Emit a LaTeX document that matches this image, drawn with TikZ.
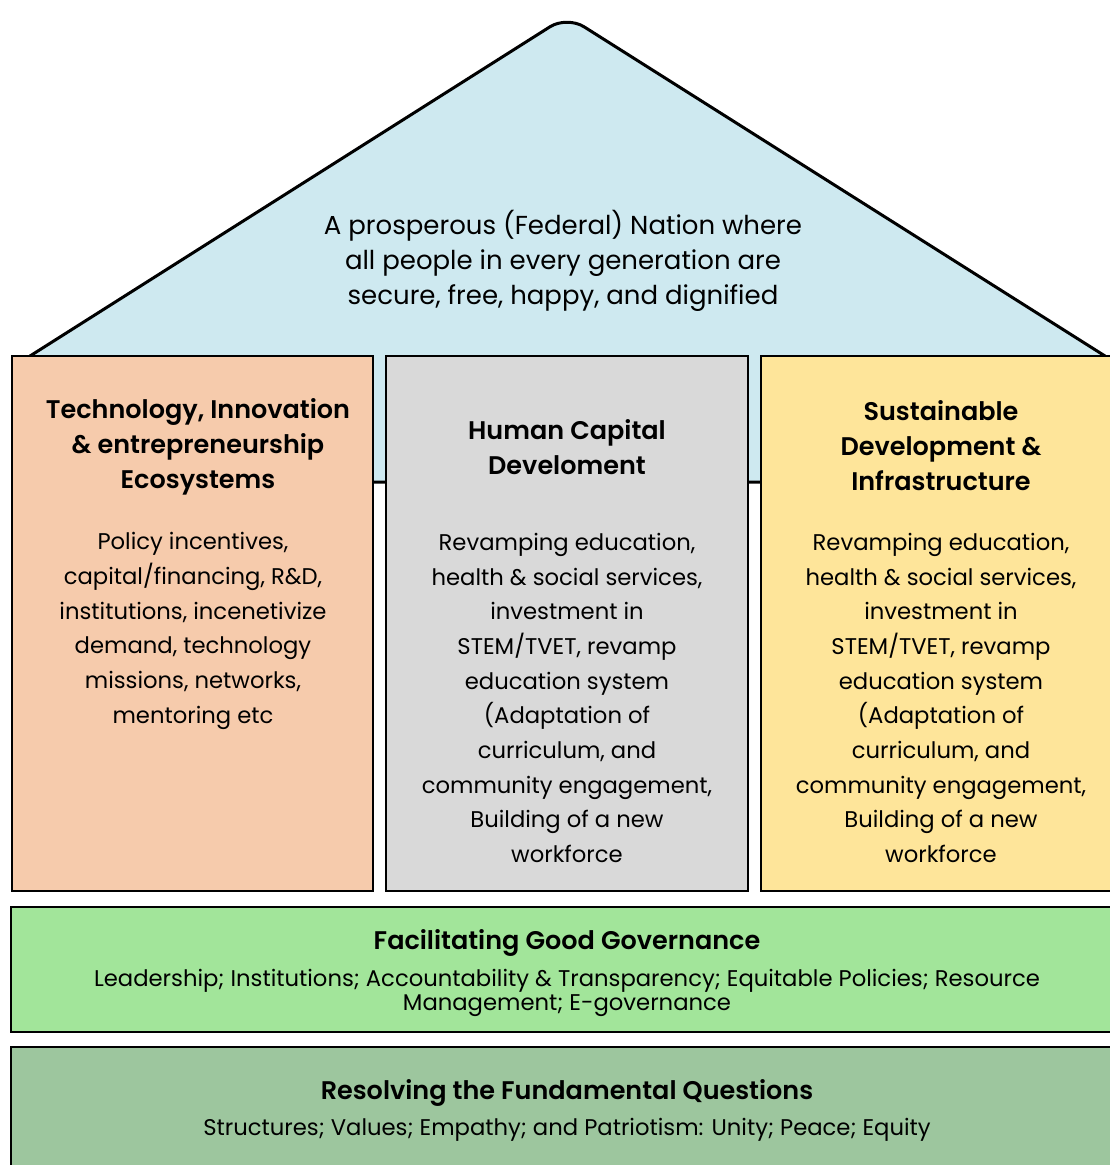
\documentclass[tikz,border=0pt]{standalone}
\usepackage{fontspec}
\setmainfont{Poppins}[BoldFont={Poppins SemiBold}]
\definecolor{roofc}{RGB}{206,233,240}
\definecolor{peach}{RGB}{246,203,172}
\definecolor{grayc}{RGB}{217,217,217}
\definecolor{yellowc}{RGB}{254,229,154}
\definecolor{greenc}{RGB}{162,229,154}
\definecolor{dgreenc}{RGB}{157,198,158}
\begin{document}
\begin{tikzpicture}[x=1pt,y=-1pt,
  pillar/.style={draw=black,line width=2.4pt},
  ttl/.style={align=center,font=\fontsize{25.5}{35}\selectfont\bfseries},
  bod/.style={align=center,font=\fontsize{22.7}{34.7}\selectfont},
  gbod/.style={align=center,font=\fontsize{22.7}{24}\selectfont}]
\useasboundingbox (0,0) rectangle (1110,1165);
\clip (0,0) rectangle (1110,1165);
% roof
\draw[fill=roofc,line width=3pt,line join=round] (30,482) -- (30,356) [rounded corners=20pt] -- (567,16) [sharp corners] -- (1105,356) -- (1105,482) -- cycle;
\node[bod,font=\fontsize{26}{35}\selectfont] (roofText) at (563,261) {A prosperous (Federal) Nation where\\all people in every generation are\\secure, free, happy, and dignified};
% pillars
\filldraw[pillar,fill=peach] (12,356) rectangle (373,891);
\filldraw[pillar,fill=grayc] (386,356) rectangle (748,891);
\filldraw[pillar,fill=yellowc] (761,356) rectangle (1125,891);
\node[ttl] (t1) at (198,447) {Technology, Innovation\\\& entrepreneurship\\Ecosystems};
\node[bod] (b1) at (193,631) {Policy incentives,\\capital/financing, R\&D,\\institutions, incenetivize\\demand, technology\\missions, networks,\\mentoring etc};
\node[ttl] (t2) at (567,447) {Human Capital\\Develoment};
\node[bod] (b2) at (567,698) {Revamping education,\\health \& social services,\\investment in\\STEM/TVET, revamp\\education system\\(Adaptation of\\curriculum, and\\community engagement,\\Building of a new\\workforce};
\node[ttl] (t3) at (941,446) {Sustainable\\Development \&\\Infrastructure};
\node[bod] (b3) at (941,698) {Revamping education,\\health \& social services,\\investment in\\STEM/TVET, revamp\\education system\\(Adaptation of\\curriculum, and\\community engagement,\\Building of a new\\workforce};
% governance
\filldraw[pillar,fill=greenc] (11,907) rectangle (1125,1032);
\node[ttl] (gt) at (567,943) {Facilitating Good Governance};
\node[gbod] (gb) at (567,993) {Leadership; Institutions; Accountability \& Transparency; Equitable Policies; Resource\\Management; E-governance};
% foundation
\filldraw[pillar,fill=dgreenc] (11,1047) rectangle (1125,1180);
\node[ttl] (ft) at (567,1093) {Resolving the Fundamental Questions};
\node[bod] (fb) at (567,1130) {Structures; Values; Empathy; and Patriotism: Unity; Peace; Equity};
\end{tikzpicture}
\end{document}
